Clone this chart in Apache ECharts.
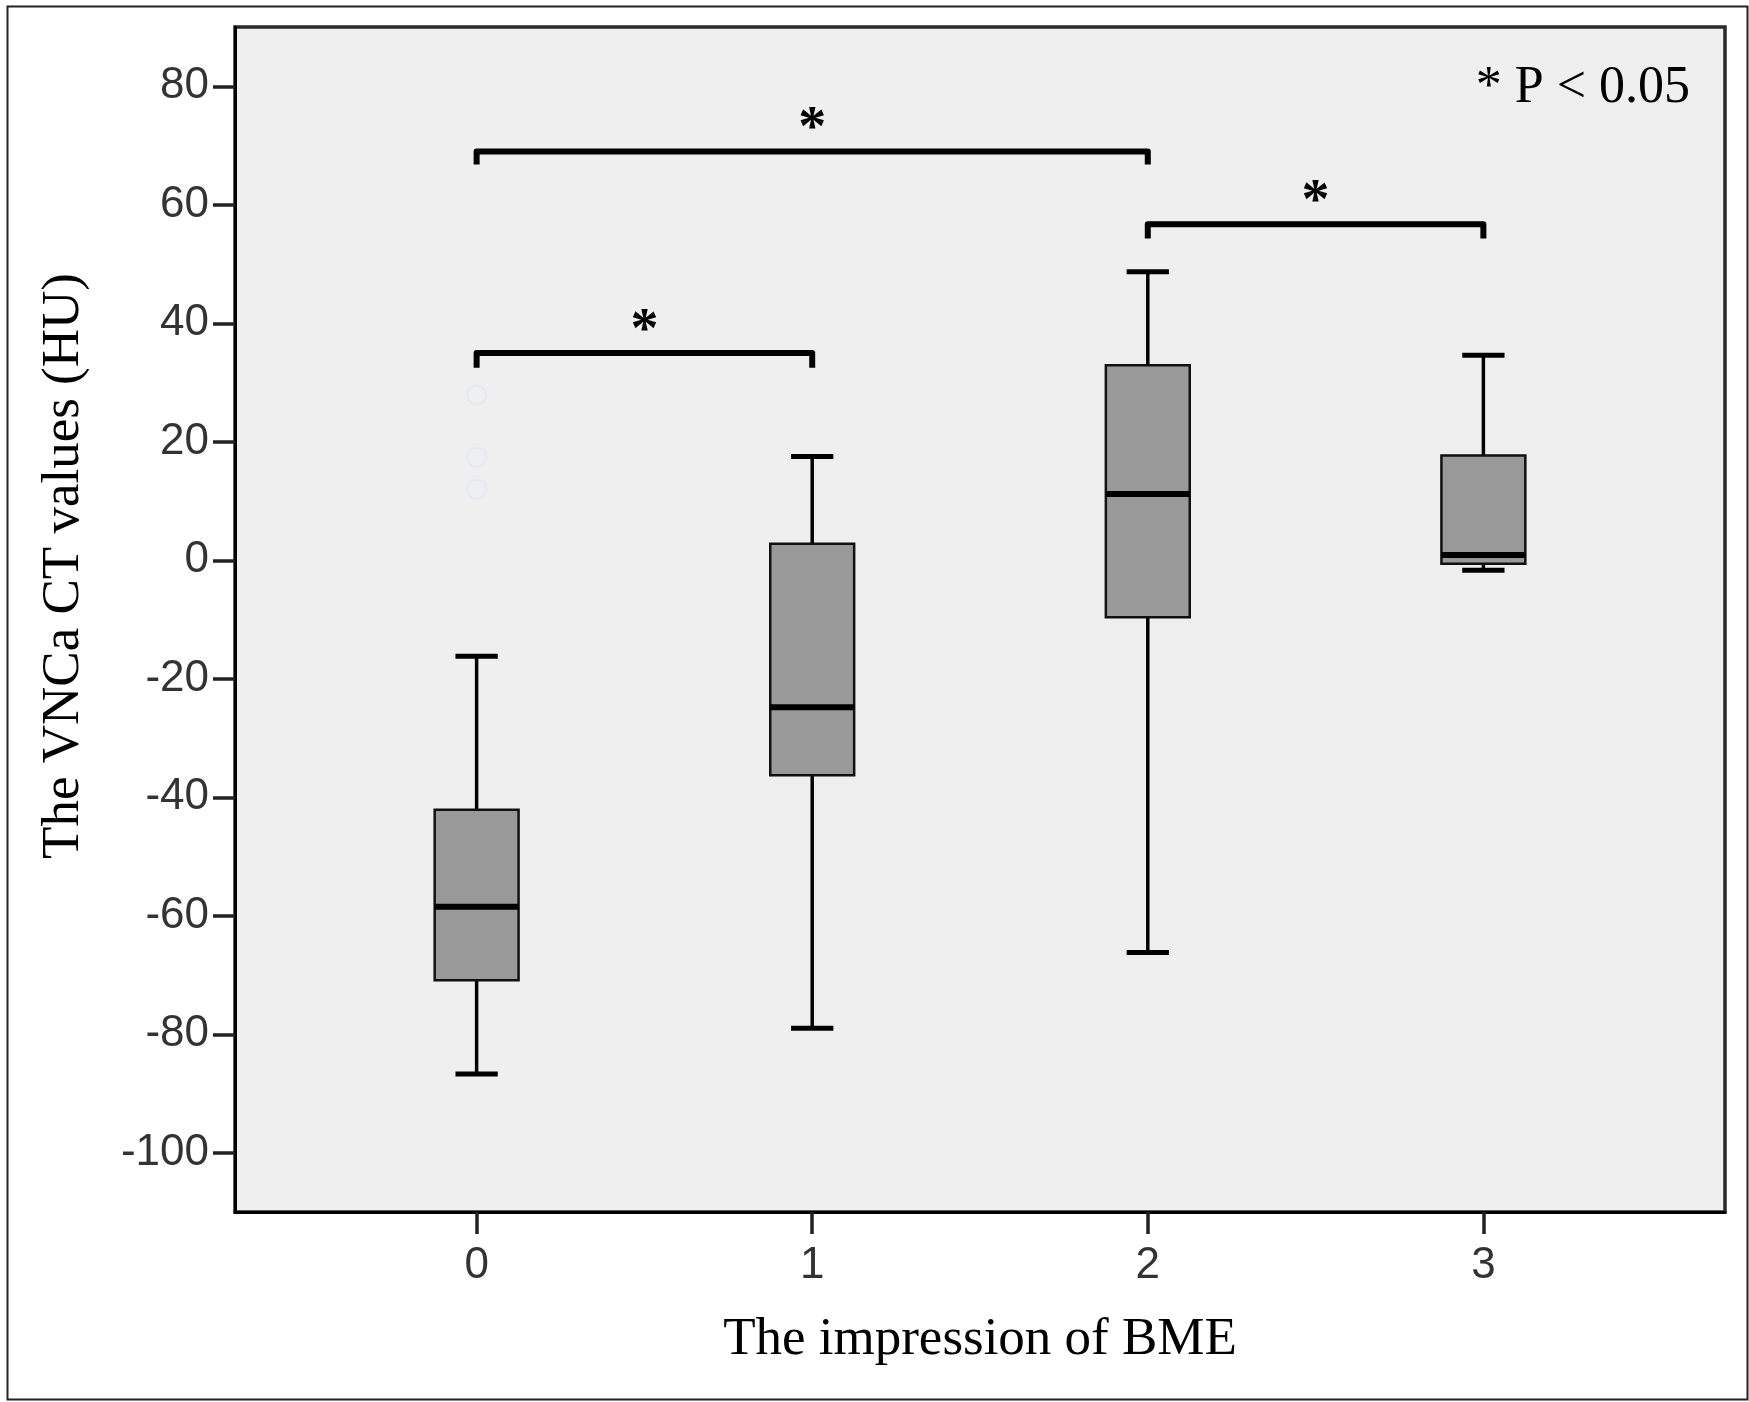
<!DOCTYPE html>
<html><head><meta charset="utf-8">
<script src="https://cdn.jsdelivr.net/npm/echarts@6/dist/echarts.min.js"></script>
<style>html,body{margin:0;padding:0;background:#fff}#c{width:1749px;height:1402px}</style>
</head><body><div id="c"></div>
<script>
// ---- data ----
const categories = ['0', '1', '2', '3'];
const categoryPositions = [0, 1, 2, 3];
const boxMin    = [-86.7, -79.0, -66.2, -1.7];
const boxQ1     = [-70.9, -36.3, -9.6, -0.6];
const boxMedian = [-58.5, -24.8, 11.2, 0.9];
const boxQ3     = [-42.1, 2.8, 32.9, 17.7];
const boxMax    = [-16.2, 17.5, 48.7, 34.6];
const outlierCategory = [0, 0, 0];
const outlierValues   = [27.9, 17.4, 12.0];
const bracketFrom = [0, 0, 2];
const bracketTo   = [1, 2, 3];
const bracketTop  = [35.0, 69.0, 56.7];
const bracketLeg  = [32.5, 66.8, 54.3];
const starY       = [39.7, 73.8, 61.6];
const starLabels  = ['*', '*', '*'];
const yTicks = [-100, -80, -60, -40, -20, 0, 20, 40, 60, 80];
const xTitle = 'The impression of BME';
const yTitle = 'The VNCa CT values (HU)';
const noteText = '* P < 0.05';

const boxData = categoryPositions.map((x, i) => [x, boxMin[i], boxQ1[i], boxMedian[i], boxQ3[i], boxMax[i]]);
const outlierData = outlierCategory.map((c, i) => [categoryPositions[c], outlierValues[i]]);
const bracketData = bracketFrom.map((f, i) => [categoryPositions[f], categoryPositions[bracketTo[i]], bracketTop[i], bracketLeg[i], starY[i]]);

const BOX_HALF = 0.125, CAP_HALF = 0.063;

function renderBox(params, api) {
  const x = api.value(0), mn = api.value(1), q1 = api.value(2), md = api.value(3), q3 = api.value(4), mx = api.value(5);
  const c = (a, b) => api.coord([a, b]);
  const tl = c(x - BOX_HALF, q3), br = c(x + BOX_HALF, q1);
  const line = (p1, p2, w) => ({ type: 'line', shape: { x1: p1[0], y1: p1[1], x2: p2[0], y2: p2[1] }, style: { stroke: '#000', lineWidth: w } });
  return {
    type: 'group',
    children: [
      line(c(x, mx), c(x, q3), 3.5),
      line(c(x, q1), c(x, mn), 3.5),
      line(c(x - CAP_HALF, mx), c(x + CAP_HALF, mx), 5),
      line(c(x - CAP_HALF, mn), c(x + CAP_HALF, mn), 5),
      { type: 'rect', shape: { x: tl[0], y: tl[1], width: br[0] - tl[0], height: br[1] - tl[1] }, style: { fill: '#999999', stroke: '#111', lineWidth: 2.5 } },
      line(c(x - BOX_HALF, md), c(x + BOX_HALF, md), 6)
    ]
  };
}

function renderBracket(params, api) {
  const x1 = api.value(0), x2 = api.value(1), top = api.value(2), leg = api.value(3), sy = api.value(4);
  const c = (a, b) => api.coord([a, b]);
  const s = c((x1 + x2) / 2, sy);
  return {
    type: 'group',
    children: [
      { type: 'polyline', shape: { points: [c(x1, leg), c(x1, top), c(x2, top), c(x2, leg)] },
        style: { stroke: '#000', lineWidth: 6, fill: null, lineJoin: 'round' } },
      { type: 'text', x: s[0], y: s[1] + 8,
        style: { text: starLabels[params.dataIndex], font: 'bold 56px "Liberation Serif"', fill: '#000', textAlign: 'center', textVerticalAlign: 'middle' } }
    ]
  };
}

const chart = echarts.init(document.getElementById('c'));
chart.setOption({
  animation: false,
  backgroundColor: '#fff',
  grid: { left: 235, right: 24, top: 27, bottom: 190, show: true, backgroundColor: '#efefef', borderColor: '#2a2a2a', borderWidth: 3.5 },
  xAxis: {
    type: 'value', min: -0.72, max: 3.72,
    name: xTitle, nameLocation: 'middle', nameGap: 102,
    nameTextStyle: { fontFamily: 'Liberation Serif', fontSize: 53, color: '#000' },
    axisLine: { show: true, onZero: false, lineStyle: { color: '#000', width: 3 } },
    axisTick: { show: true, customValues: categoryPositions, length: 22, lineStyle: { color: '#222', width: 3.5 } },
    axisLabel: { customValues: categoryPositions, formatter: v => categories[categoryPositions.indexOf(v)], fontFamily: 'Liberation Sans', fontSize: 44, color: '#333', margin: 32 },
    splitLine: { show: false }
  },
  yAxis: {
    type: 'value', min: -110, max: 90,
    axisLine: { show: true, onZero: false, lineStyle: { color: '#000', width: 3 } },
    axisTick: { show: true, customValues: yTicks, length: 22, lineStyle: { color: '#222', width: 3.5 } },
    axisLabel: { customValues: yTicks, fontFamily: 'Liberation Sans', fontSize: 44, color: '#333', margin: 26 },
    splitLine: { show: false }
  },
  graphic: [
    { type: 'rect', shape: { x: 7.5, y: 6.5, width: 1740, height: 1393 }, style: { fill: null, stroke: '#222', lineWidth: 2 }, z: 100 },
    { type: 'text', x: 64, y: 566, rotation: Math.PI / 2,
      style: { text: yTitle, font: '53px "Liberation Serif"', fill: '#000', textAlign: 'center', textVerticalAlign: 'middle' } },
    { type: 'text', x: 1690, y: 88,
      style: { text: noteText, font: '52px "Liberation Serif"', fill: '#000', textAlign: 'right', textVerticalAlign: 'middle' } }
  ],
  series: [
    { type: 'custom', renderItem: renderBox, data: boxData, encode: { x: 0, y: [1, 2, 3, 4, 5] }, z: 3 },
    { type: 'scatter', data: outlierData, symbol: 'circle', symbolSize: 19,
      itemStyle: { color: 'rgba(0,0,0,0)', borderColor: '#dfe8f7', borderWidth: 2 }, z: 2 },
    { type: 'custom', renderItem: renderBracket, data: bracketData, encode: { x: [0, 1], y: [2, 3, 4] }, z: 4 }
  ]
});
</script>
</body></html>
